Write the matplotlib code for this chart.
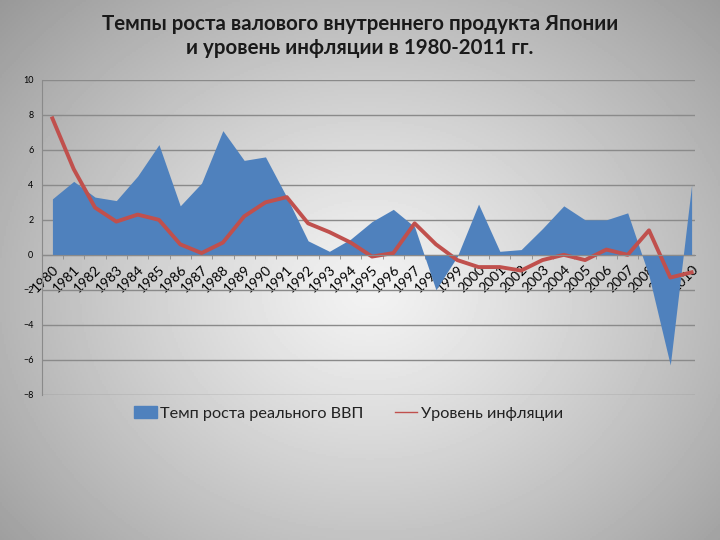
import numpy as np
import matplotlib
matplotlib.use('Agg')
import matplotlib.pyplot as plt
from matplotlib.patches import Patch
from matplotlib.lines import Line2D

plt.rcParams['font.family'] = ['Lato', 'DejaVu Sans']

years = list(range(1980, 2011))
gdp = [3.2, 4.2, 3.3, 3.1, 4.5, 6.3, 2.8, 4.1, 7.1, 5.4, 5.6,
       3.3, 0.8, 0.2, 0.9, 1.9, 2.6, 1.6, -2.0, -0.1, 2.9,
       0.2, 0.3, 1.5, 2.8, 2.0, 2.0, 2.4, -1.2, -6.3, 4.0]
infl = [7.8, 4.9, 2.7, 1.9, 2.3, 2.0, 0.6, 0.1, 0.7, 2.2, 3.0,
        3.3, 1.8, 1.3, 0.7, -0.1, 0.1, 1.8, 0.6, -0.3, -0.7,
        -0.7, -0.9, -0.3, 0.0, -0.3, 0.3, 0.0, 1.4, -1.3, -1.0]
yticks = [-8, -6, -4, -2, 0, 2, 4, 6, 8, 10]

fig = plt.figure(figsize=(7.2, 5.4), dpi=100)

# radial grey background like the slide
bg = fig.add_axes([0, 0, 1, 1], zorder=-2)
gx, gy = np.meshgrid(np.linspace(0, 720, 360), np.linspace(0, 540, 270))
r = np.sqrt(((gx - 370) / 480) ** 2 + ((gy - 290) / 400) ** 2)
shade = np.clip(0.95 - 0.33 * r ** 1.2, 0.58, 0.95)
bg.imshow(shade, cmap='gray', vmin=0, vmax=1, extent=[0, 720, 540, 0], aspect='auto')
bg.axis('off')

ax = fig.add_axes([0.058, 0.269, 0.907, 0.583])
ax.patch.set_alpha(0)
x = np.arange(len(years))

ax.fill_between(x, gdp, 0, color='#4f81bd', lw=0)
ax.plot(x, infl, color='#c0504d', lw=2.8, solid_joinstyle='round')

ax.set_ylim(-8, 10)
ax.set_xlim(-0.5, len(years) - 0.85)
ax.set_yticks(yticks)
ax.yaxis.grid(True, color='#8a8a8a', lw=1)
ax.set_axisbelow(True)
ax.tick_params(axis='y', length=0, labelsize=6.5, pad=6)

ax.spines['top'].set_visible(False)
ax.spines['right'].set_visible(False)
ax.spines['left'].set_color('#8a8a8a')
ax.spines['bottom'].set_position(('data', 0))
ax.spines['bottom'].set_color('#8a8a8a')
ax.set_xticks(x)
ax.set_xticklabels([str(y) for y in years], rotation=45, ha='right',
                   rotation_mode='anchor', fontsize=10)
ax.set_xticks(x - 0.5, minor=True)
ax.tick_params(axis='x', which='major', length=0, pad=6)
ax.tick_params(axis='x', which='minor', length=3, color='#8a8a8a')

fig.suptitle('Темпы роста валового внутреннего продукта Японии\nи уровень инфляции в 1980-2011 гг.',
             x=0.5, y=0.975, fontsize=14.8, fontweight='bold', color='#1a1a1a', linespacing=1.3)

handles = [Patch(color='#4f81bd'), Line2D([0], [0], color='#c0504d', lw=1)]
fig.legend(handles, ['Темп роста реального ВВП', 'Уровень инфляции'],
           loc='center', bbox_to_anchor=(0.484, 0.234), ncol=2, frameon=False,
           fontsize=11.7, handlelength=1.4, handleheight=0.7, columnspacing=1.9,
           handletextpad=0.2, labelcolor='#222222')

fig.savefig('out.png', dpi=100)
